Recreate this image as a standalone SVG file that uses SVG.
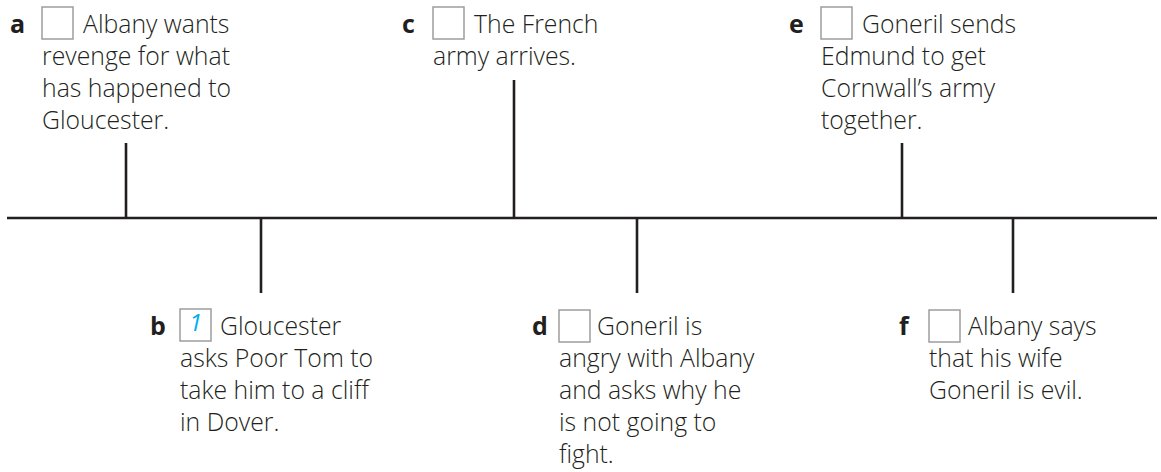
<svg xmlns="http://www.w3.org/2000/svg" width="1161" height="472" viewBox="0 0 1161 472">
<style>
.t{font-family:"Open Sans","Noto Sans","Liberation Sans",sans-serif;font-size:24.8px;font-weight:300;fill:#231f20}
.l{font-family:"Open Sans","Noto Sans","Liberation Sans",sans-serif;font-size:25px;font-weight:bold;fill:#231f20}
.box{fill:#fff;stroke:#9d9d9d;stroke-width:1.5}
.ln{stroke:#231f20;stroke-width:2.6;fill:none}
.ans{font-family:"Open Sans","Noto Sans","Liberation Sans",sans-serif;font-size:24px;font-style:italic;fill:#00aeef}
</style>
<rect width="1161" height="472" fill="#fff"/>
<g id="connectors">
<line class="ln" x1="7" y1="218" x2="1157" y2="218"/>
<line class="ln" x1="126" y1="143" x2="126" y2="218"/>
<line class="ln" x1="261" y1="218" x2="261" y2="293"/>
<line class="ln" x1="514" y1="80" x2="514" y2="218"/>
<line class="ln" x1="637" y1="218" x2="637" y2="293"/>
<line class="ln" x1="902" y1="143" x2="902" y2="218"/>
<line class="ln" x1="1013" y1="218" x2="1013" y2="293"/>
</g>
<g id="node-a">
<text class="l" x="10" y="33">a</text>
<rect class="box" x="42" y="7" width="31" height="32"/>
<text class="t" x="83" y="33">Albany wants</text>
<text class="t" x="42" y="65">revenge for what</text>
<text class="t" x="42" y="97">has happened to</text>
<text class="t" x="42" y="129">Gloucester.</text>
</g>
<g id="node-b">
<text class="l" x="150" y="335">b</text>
<rect class="box" x="180" y="309" width="31" height="32"/>
<text class="ans" x="189" y="331">1</text>
<text class="t" x="220" y="335">Gloucester</text>
<text class="t" x="180" y="367">asks Poor Tom to</text>
<text class="t" x="180" y="399">take him to a cliff</text>
<text class="t" x="180" y="431">in Dover.</text>
</g>
<g id="node-c">
<text class="l" x="402" y="33">c</text>
<rect class="box" x="433" y="7" width="31" height="32"/>
<text class="t" x="474" y="33">The French</text>
<text class="t" x="433" y="65">army arrives.</text>
</g>
<g id="node-d">
<text class="l" x="532" y="335">d</text>
<rect class="box" x="559" y="310" width="31" height="32"/>
<text class="t" x="597" y="335">Goneril is</text>
<text class="t" x="559" y="367">angry with Albany</text>
<text class="t" x="559" y="399">and asks why he</text>
<text class="t" x="559" y="431">is not going to</text>
<text class="t" x="559" y="463">fight.</text>
</g>
<g id="node-e">
<text class="l" x="789" y="33">e</text>
<rect class="box" x="821" y="7" width="31" height="32"/>
<text class="t" x="862" y="33">Goneril sends</text>
<text class="t" x="821" y="65">Edmund to get</text>
<text class="t" x="821" y="97">Cornwall’s army</text>
<text class="t" x="821" y="129">together.</text>
</g>
<g id="node-f">
<text class="l" x="899" y="335">f</text>
<rect class="box" x="929" y="310" width="31" height="32"/>
<text class="t" x="968" y="335">Albany says</text>
<text class="t" x="929" y="367">that his wife</text>
<text class="t" x="929" y="399">Goneril is evil.</text>
</g>
</svg>
